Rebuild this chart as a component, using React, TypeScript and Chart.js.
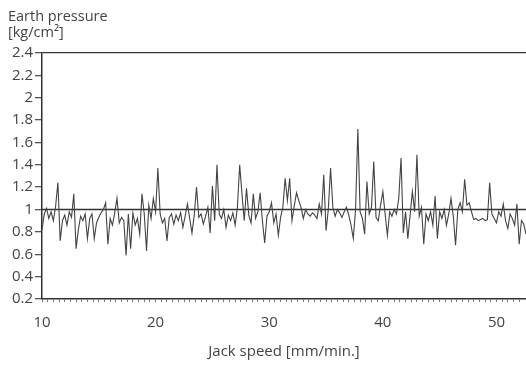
import React, { useEffect, useRef } from "react";
import { Chart, registerables } from "chart.js";

Chart.register(...registerables);

const X_START = 10;
const X_STEP = 0.2;
const X_MIN = 10;
const X_MAX = 52.6;
const Y_MIN = 0.2;
const Y_MAX = 2.4;
const REFERENCE_LEVEL = 1;

const TITLE_LINES = ["Earth pressure", "[kg/cm²]"];
const X_TITLE = "Jack speed [mm/min.]";

const EARTH_PRESSURE = [
  0.82, 0.96, 1.01, 0.92, 0.98, 0.90, 1.03, 1.24, 0.72, 0.90,
  0.95, 0.86, 0.98, 0.93, 1.14, 0.65, 0.82, 0.94, 0.90, 0.96,
  0.74, 0.92, 0.96, 0.74, 0.88, 0.93, 0.97, 1.00, 1.06, 0.69,
  0.92, 0.86, 0.97, 1.10, 0.88, 0.93, 0.90, 0.59, 0.96, 0.65,
  0.97, 0.86, 0.92, 0.78, 1.14, 0.96, 0.63, 1.04, 0.92, 1.10,
  0.98, 1.37, 0.96, 0.88, 0.92, 0.72, 0.93, 0.96, 0.87, 0.95,
  0.90, 0.97, 0.84, 0.94, 1.05, 0.92, 0.79, 0.95, 1.20, 0.93,
  0.96, 0.87, 0.94, 1.02, 0.79, 1.21, 0.90, 1.40, 0.96, 0.92,
  1.00, 0.84, 0.95, 0.90, 0.97, 0.86, 1.02, 1.40, 1.14, 0.90,
  1.19, 0.95, 0.88, 1.14, 0.92, 0.98, 1.15, 0.90, 0.70, 0.94,
  0.98, 1.06, 0.88, 0.96, 0.77, 0.93, 1.02, 1.28, 1.08, 1.28,
  0.90, 1.03, 1.15, 1.08, 1.02, 0.92, 1.00, 0.96, 0.94, 0.97,
  0.95, 0.92, 1.05, 0.96, 1.31, 0.81, 1.00, 1.37, 1.02, 0.94,
  1.00, 0.97, 0.93, 0.98, 1.02, 0.95, 0.86, 0.74, 1.00, 1.72,
  0.98, 0.92, 0.78, 1.25, 0.96, 1.02, 1.43, 0.93, 0.90, 1.04,
  1.16, 0.96, 0.77, 0.98, 0.94, 1.00, 0.96, 1.10, 1.46, 0.79,
  0.98, 0.74, 0.95, 1.16, 0.98, 1.49, 0.94, 1.02, 0.69, 0.96,
  0.90, 0.98, 0.86, 1.12, 0.74, 0.98, 0.92, 1.00, 0.86, 0.96,
  1.10, 0.94, 0.68, 1.00, 1.06, 0.98, 1.27, 1.04, 1.06, 0.98,
  0.91, 0.92, 0.90, 0.91, 0.92, 0.90, 0.91, 1.24, 0.96, 0.92,
  0.88, 0.98, 0.94, 1.05, 0.90, 0.83, 0.96, 0.92, 0.86, 1.05,
  0.69, 0.90, 0.87, 0.78,
];

const FONT = "'Open Sans', 'DejaVu Sans', sans-serif";
const TEXT = "#444";
const AXIS = "#333";

export default function App() {
  const ref = useRef<HTMLCanvasElement | null>(null);

  useEffect(() => {
    if (!ref.current) return;
    const points = EARTH_PRESSURE.map((v, i) => ({ x: X_START + i * X_STEP, y: v }));
    const chart = new Chart(ref.current, {
      type: "line",
      data: {
        datasets: [
          {
            data: points,
            borderColor: "#444",
            borderWidth: 1.1,
            pointRadius: 0,
            tension: 0,
          },
          {
            data: [
              { x: X_MIN, y: REFERENCE_LEVEL },
              { x: X_MAX, y: REFERENCE_LEVEL },
            ],
            borderColor: AXIS,
            borderWidth: 1.3,
            pointRadius: 0,
          },
        ],
      },
      options: {
        animation: false,
        responsive: true,
        maintainAspectRatio: false,
        layout: { padding: { left: 8, right: 0, top: 0, bottom: 0 } },
        plugins: {
          legend: { display: false },
          tooltip: { enabled: false },
          title: {
            display: true,
            text: TITLE_LINES,
            align: "start",
            color: TEXT,
            font: { family: FONT, size: 14.5, weight: "normal", lineHeight: 1.1 },
            padding: { top: 9, bottom: 12 },
          },
        },
        scales: {
          x: {
            type: "linear",
            min: X_MIN,
            max: X_MAX,
            border: { display: true, color: AXIS, width: 1.5 },
            grid: {
              drawOnChartArea: false,
              drawTicks: true,
              tickLength: 3,
              tickColor: "#777",
            },
            ticks: {
              stepSize: 0.5,
              autoSkip: false,
              maxRotation: 0,
              padding: 12,
              color: TEXT,
              font: { family: FONT, size: 15 },
              callback: (value: any) => {
                const v = Number(value);
                return Math.abs(v - Math.round(v / 10) * 10) < 1e-6 ? String(Math.round(v)) : "";
              },
            },
            title: {
              display: true,
              text: X_TITLE,
              color: TEXT,
              font: { family: FONT, size: 15 },
              padding: { top: 6, bottom: 4 },
            },
            afterFit: (scale: any) => {
              scale.height = 66;
              scale.paddingRight = 0;
              scale.paddingLeft = 0;
            },
          },
          y: {
            min: Y_MIN,
            max: Y_MAX,
            border: { display: true, color: AXIS, width: 1.5 },
            grid: {
              drawOnChartArea: true,
              color: (ctx: any) =>
                ctx.tick && Math.abs(ctx.tick.value - Y_MAX) < 1e-6 ? AXIS : "rgba(0,0,0,0)",
              lineWidth: 1.3,
              tickColor: "#555",
              tickLength: 7,
            },
            ticks: {
              stepSize: 0.2,
              padding: 2,
              color: TEXT,
              font: { family: FONT, size: 15 },
              callback: (value: any) => String(Math.round(Number(value) * 10) / 10),
            },
            afterFit: (scale: any) => {
              scale.width = 34;
              scale.paddingTop = 0;
            },
          },
        },
      },
    });
    return () => chart.destroy();
  }, []);

  return (
    <div style={{ position: "absolute", left: 0, top: 0, width: 526, height: 365, background: "#fff" }}>
      <canvas ref={ref} />
    </div>
  );
}
